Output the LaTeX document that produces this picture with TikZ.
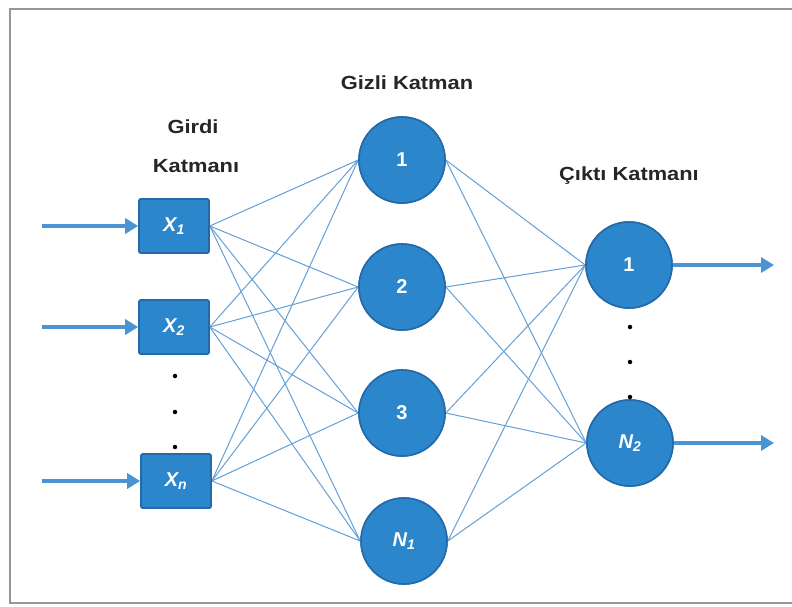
\documentclass[tikz,border=0pt]{standalone}
\usepackage{fontspec}
\setmainfont{Liberation Sans}
\usetikzlibrary{arrows.meta}
\definecolor{nodefill}{RGB}{44,134,204}
\definecolor{nodeedge}{RGB}{36,106,170}
\definecolor{linkblue}{RGB}{100,160,216}
\definecolor{arrowblue}{RGB}{74,148,212}
\definecolor{framegray}{RGB}{150,150,150}
\tikzset{
  inbox/.style={draw=nodeedge, line width=1.6pt, fill=nodefill, rounded corners=2pt,
    minimum width=70pt, minimum height=54pt, inner sep=0pt, text=white,
    font=\fontsize{20}{22}\selectfont\bfseries\itshape},
  neuron/.style={circle, draw=nodeedge, line width=1.6pt, fill=nodefill,
    minimum size=86pt, inner sep=0pt, text=white,
    font=\fontsize{20}{22}\selectfont\bfseries},
  link/.style={draw=linkblue, line width=1pt},
  flow/.style={draw=arrowblue, line width=3.4pt, -{Triangle[length=13pt,width=15pt]}},
  title/.style={font=\fontsize{19}{22}\selectfont\bfseries, text=black!85},
  dotmark/.style={circle, fill=black, inner sep=0pt, minimum size=4.5pt}
}
\newcommand{\hs}[1]{\scalebox{1.15}[1]{#1}}
\begin{document}
\begin{tikzpicture}[x=1pt,y=-1pt]
\useasboundingbox (0,0) rectangle (792,606);
\fill[white] (0,0) rectangle (792,606);
% frame
\draw[framegray, line width=1.6pt] (800,9) -- (10,9) -- (10,603) -- (800,603);

% titles
\node[title] (t1) at (193,127) {\hs{Girdi}};
\node[title] (t2) at (196,166) {\hs{Katmanı}};
\node[title] (t3) at (407,83) {\hs{Gizli Katman}};
\node[title] (t4) at (629,176) {\hs{Çıktı Katmanı}};

% node positions
\coordinate (px1) at (174,226);
\coordinate (px2) at (174,327);
\coordinate (pxn) at (176,481);

% links first (under nodes)
\path (px1) node[inbox] (x1) {};
\path (px2) node[inbox] (x2) {};
\path (pxn) node[inbox] (xn) {};
\node[neuron] (h1) at (402,160) {};
\node[neuron] (h2) at (402,287) {};
\node[neuron] (h3) at (402,413) {};
\node[neuron] (h4) at (404,541) {};
\node[neuron] (o1) at (629,265) {};
\node[neuron] (o2) at (630,443) {};

\foreach \i in {x1,x2,xn}{
  \foreach \j in {h1,h2,h3,h4}{
    \path[link] (\i.east) -- (\j.west);
  }
}
\foreach \i in {h1,h2,h3,h4}{
  \foreach \j in {o1,o2}{
    \path[link] (\i.east) -- (\j.west);
  }
}

% nodes on top of links
\node[inbox] at (x1) {X\textsubscript{1}};
\node[inbox] at (x2) {X\textsubscript{2}};
\node[inbox] at (xn) {X\textsubscript{n}};
\node[neuron] at (h1) {1};
\node[neuron] at (h2) {2};
\node[neuron] at (h3) {3};
\node[neuron] at (h4) {\itshape N\textsubscript{1}};
\node[neuron] at (o1) {1};
\node[neuron] at (o2) {\itshape N\textsubscript{2}};

% dots
\node[dotmark] (d1) at (175,376) {};
\node[dotmark] (d2) at (175,412) {};
\node[dotmark] (d3) at (175,447) {};
\node[dotmark] (e1) at (630,327) {};
\node[dotmark] (e2) at (630,362) {};
\node[dotmark] (e3) at (630,397) {};

% arrows
\coordinate (a1) at (42,226);
\coordinate (a2) at (42,327);
\coordinate (a3) at (42,481);
\coordinate (b1) at (774,265);
\coordinate (b2) at (774,443);
\draw[flow] (a1) -- (x1.west);
\draw[flow] (a2) -- (x2.west);
\draw[flow] (a3) -- (xn.west);
\draw[flow] (o1.east) -- (b1);
\draw[flow] (o2.east) -- (b2);
\end{tikzpicture}
\end{document}
